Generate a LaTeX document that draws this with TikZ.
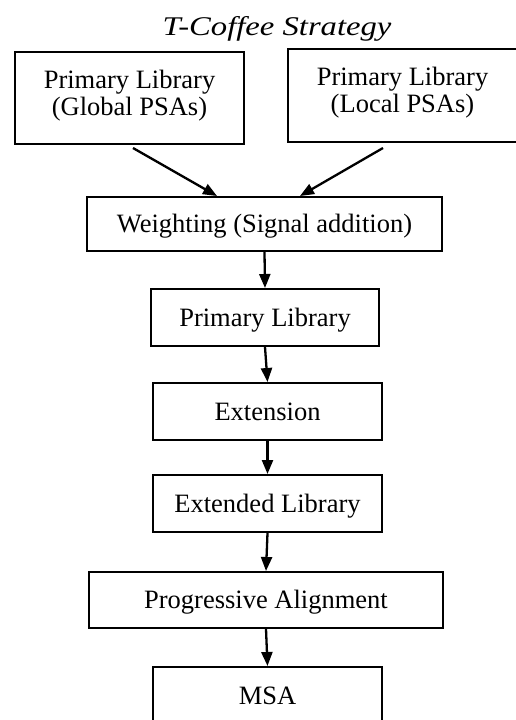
\documentclass[tikz,border=0pt]{standalone}
\usepackage{graphicx}
\usepackage{fontspec}
\setmainfont{Liberation Serif}
\usetikzlibrary{arrows.meta}
% two centred lines whose reference point is the first baseline
\newcommand{\twolines}[2]{\vtop{\halign{\hfil##\hfil\cr #1\cr #2\cr}}}
\begin{document}
\begin{tikzpicture}[x=1pt,y=-1pt,
  box/.style={draw, line width=2pt, inner sep=0pt,
    font=\fontsize{26.5}{27.5}\selectfont, text height=17pt, text depth=0pt},
  arr/.style={line width=2.3pt, -{Triangle[length=14pt,width=11pt]}}]
\useasboundingbox (0,0) rectangle (516,720);
% heading, cut off just under the baseline
\begin{scope}
  \clip (0,0) rectangle (516,43);
  \node[font=\itshape\fontsize{27}{30}\selectfont, anchor=base, inner sep=0pt]
    (title) at (277,35) {\scalebox{1.21}[1]{T-Coffee Strategy}};
\end{scope}
% the two input libraries
\node[box, text depth=37pt, minimum width=229pt, minimum height=92pt] (glob) at (129.5,98)
  {\twolines{Primary Library}{(Global PSAs)}};
\node[box, text depth=38pt, minimum width=229pt, minimum height=93pt] (loc) at (402.5,95.5)
  {\twolines{Primary Library}{(Local PSAs)}};
% pipeline
\node[box, minimum width=355pt, minimum height=54pt] (wt)  at (264.5,224)   {Weighting (Signal addition)};
\node[box, minimum width=228pt, minimum height=57pt] (pl)  at (265,317.5)   {Primary Library};
\node[box, minimum width=229pt, minimum height=57pt] (ext) at (267.5,411.5) {Extension};
\node[box, minimum width=229pt, minimum height=57pt] (el)  at (267.5,503.5) {Extended Library};
\node[box, minimum width=354pt, minimum height=56pt] (pa)  at (266,600)     {Progressive Alignment};
\node[box, minimum width=229pt, minimum height=57pt] (msa) at (267.5,695.5) {MSA};
% connectors
\draw[arr] ([xshift=3.5pt,yshift=-3pt]glob.south) -- ([xshift=-47.5pt]wt.north);
\draw[arr] ([xshift=-19.5pt,yshift=-5pt]loc.south) -- ([xshift=35.5pt]wt.north);
\draw[arr] (wt.south) -- (pl.north);
\draw[arr] (pl.south) -- (ext.north);
\draw[arr] (ext.south) -- (el.north);
\draw[arr] (el.south) -- (pa.north);
\draw[arr] (pa.south) -- (msa.north);
\end{tikzpicture}
\end{document}
